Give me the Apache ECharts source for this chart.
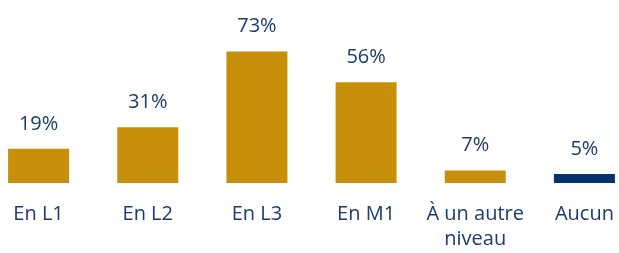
<!DOCTYPE html>
<html>
<head>
<meta charset="utf-8">
<script src="https://cdn.jsdelivr.net/npm/echarts@6/dist/echarts.min.js"></script>
<style>
  html, body { margin: 0; padding: 0; background: #fff; }
  #main { width: 619px; height: 253px; }
</style>
</head>
<body>
<div id="main"></div>
<script>
// data
var categories = ['En L1', 'En L2', 'En L3', 'En M1', 'À un autre\nniveau', 'Aucun'];
var values = [19, 31, 73, 56, 7, 5];
var barColors = ['#C8900A', '#C8900A', '#C8900A', '#C8900A', '#C8900A', '#00336F'];

var chartDom = document.getElementById('main');
var myChart = echarts.init(chartDom);

var option = {
  animation: false,
  grid: {
    left: -16,
    right: -20,
    top: 3,
    bottom: 70,
    containLabel: false,
    outerBoundsMode: 'none'
  },
  xAxis: {
    type: 'category',
    data: categories,
    axisLine: { show: false },
    axisTick: { show: false },
    axisLabel: {
      interval: 0,
      margin: 19,
      color: '#1B3A6F',
      fontFamily: 'Open Sans',
      fontSize: 20,
      lineHeight: 25
    }
  },
  yAxis: {
    type: 'value',
    min: 0,
    max: 100,
    show: false,
    splitLine: { show: false }
  },
  series: [
    {
      type: 'bar',
      barWidth: 61,
      data: values.map(function (v, i) {
        return { value: v, itemStyle: { color: barColors[i] } };
      }),
      label: {
        show: true,
        position: 'top',
        distance: 15,
        formatter: '{c}%',
        color: '#1B3A6F',
        fontFamily: 'Open Sans',
        fontSize: 20
      }
    }
  ]
};

option && myChart.setOption(option);
</script>
</body>
</html>
